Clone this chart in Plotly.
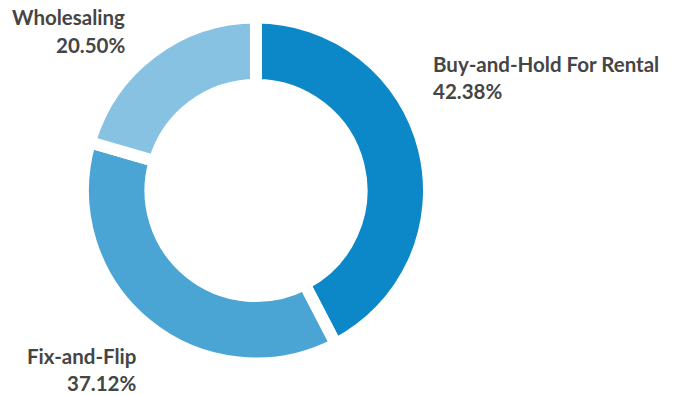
import plotly.graph_objects as go

labels = ["Buy-and-Hold For Rental", "Fix-and-Flip", "Wholesaling"]
values = [42.38, 37.12, 20.50]
colors = ["#0C87C8", "#4AA5D4", "#87C2E2"]

W, H = 678, 395
# label placement (pixel coords: x, y of name line centre, y of value line centre, anchor)
label_pos = [
    (431, 64, 91, "left"),
    (138, 355.5, 382.5, "right"),
    (127, 17, 45, "right"),
]

cx, cy, r = 256, 190.5, 173

fig = go.Figure(go.Pie(
    labels=labels,
    values=values,
    sort=False,
    direction="clockwise",
    rotation=0,
    hole=0.61,
    marker=dict(colors=colors, line=dict(color="white", width=12)),
    textinfo="none",
    hoverinfo="label+percent",
    domain=dict(x=[(cx - r) / W, (cx + r) / W], y=[(H - cy - r) / H, (H - cy + r) / H]),
    showlegend=False,
))

font = dict(family="Lato", size=20.5, color="#454545", weight="bold")
for lab, val, (px, py1, py2, anc) in zip(labels, values, label_pos):
    fig.add_annotation(x=px / W, y=1 - py1 / H, xref="paper", yref="paper", text=lab,
                       showarrow=False, xanchor=anc, yanchor="middle", font=font)
    fig.add_annotation(x=px / W, y=1 - py2 / H, xref="paper", yref="paper", text=f"{val:.2f}%",
                       showarrow=False, xanchor=anc, yanchor="middle", font=font)

fig.update_layout(width=W, height=H, margin=dict(l=0, r=0, t=0, b=0),
                  paper_bgcolor="white", plot_bgcolor="white")
fig.write_html("out.html")
